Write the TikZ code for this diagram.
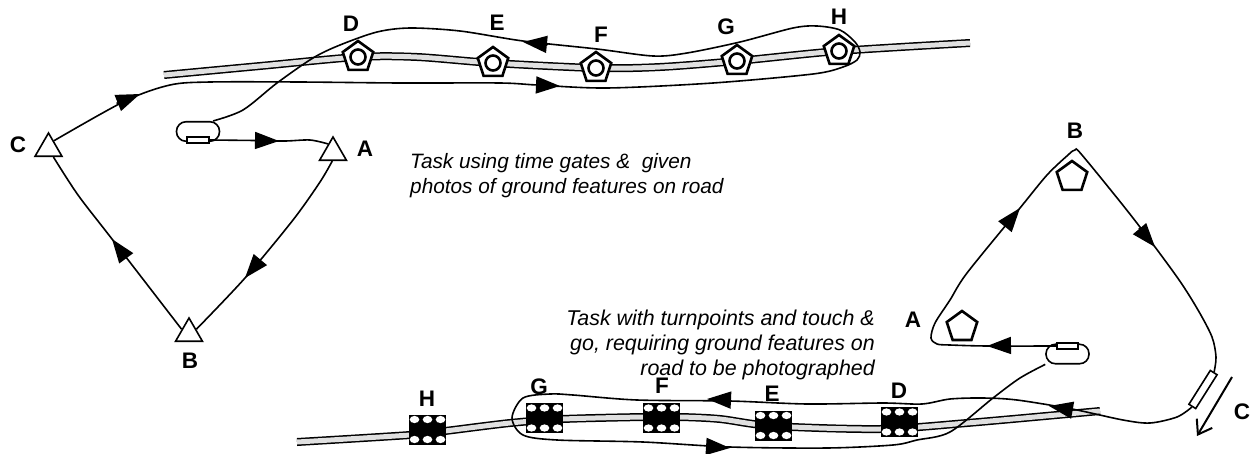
\documentclass[tikz,border=0pt]{standalone}
\usepackage{fontspec}
\setmainfont{Liberation Sans}
\usetikzlibrary{arrows.meta,shapes.geometric}
\tikzset{
  route/.style={line width=1.6pt},
  roadway/.style={line width=1.5pt,double=black!12,double distance=5pt},
  headtip/.style={line width=1.6pt,-{Triangle[length=24pt,width=17pt]}},
  tpoint/.style={draw,fill=white,regular polygon,regular polygon sides=3,minimum size=31pt,inner sep=0pt,line width=1.6pt},
  pentagon/.style={draw,fill=white,regular polygon,regular polygon sides=5,minimum size=32pt,inner sep=0pt,line width=2.6pt},
  ring/.style={draw,fill=white,circle,minimum size=15pt,inner sep=0pt,line width=2.6pt},
  block/.style={fill=black,minimum width=37pt,minimum height=30pt,inner sep=0pt},
  oval/.style={draw,fill=white,rounded corners=9.5pt,minimum width=43pt,minimum height=19.5pt,inner sep=0pt,line width=1.6pt},
  bar/.style={draw,fill=white,minimum width=21.5pt,minimum height=6pt,inner sep=0pt,line width=1.6pt},
  tag/.style={font=\fontsize{22.5}{26}\selectfont\bfseries,inner sep=0pt},
  note/.style={font=\fontsize{#1}{25}\selectfont\itshape,inner sep=0pt}
}
\begin{document}
\begin{tikzpicture}[x=1pt,y=-1pt]
\useasboundingbox (0,0) rectangle (1258,453);
\draw[roadway] plot[smooth,tension=0.5] coordinates {(164,75) (260,66) (358,57) (417,57) (493,63) (596,68) (660,67) (737,61) (839,51) (970,43)};
\draw[roadway] plot[smooth,tension=0.5] coordinates {(297,442) (410,435) (445,431) (510,423) (563,419) (643,417) (680,417) (720,419) (773,426) (880,429) (967,423) (1100,411)};
\node[tpoint] (tpAa) at (333,152.5) {};
\node[tpoint] (tpBb) at (189,333.5) {};
\node[tpoint] (tpCc) at (48.5,148.5) {};
\node[oval] (ovalTop) at (198,131.5) {};
\node[bar] (barTop) at (198,140) {};
\foreach \nm/\x/\y/\lx/\ly in {D/358/57/351/24,E/493/63/497/23,F/596/68/601/35,G/737/61/726/27,H/839/51/839/17}{
  \node[pentagon] (pent\nm) at (\x,\y) {};
  \node[ring] at (\x,\y) {};
  \node[tag] (lab\nm) at (\lx,\ly) {\nm};
}
\foreach \nm/\x/\y/\lx/\ly in {H/427.5/429.5/427/399,G/544.5/418/539/387,F/661.5/418/662/386,E/773.5/425.5/772/394,D/899.5/422/899/391}{
  \node[block] (blk\nm) at (\x,\y) {};
  \foreach \dx in {-13,0,13}{
    \foreach \dy in {-10,10}{
      \fill[white] (\x+\dx,\y+\dy) ellipse (4.8 and 3.6);
    }
  }
  \node[tag] (low\nm) at (\lx,\ly) {\nm};
}
\node[tag] (labAa) at (365,149) {A};
\node[tag] (labBb) at (190,361) {B};
\node[tag] (labCc) at (18,145) {C};
\node[note=20.8,anchor=north west,align=left] (noteTop) at (410,153) {Task using time gates \&\ \ given\\photos of ground features on road};
\node[note=21.4,anchor=north east,align=right] (noteLow) at (875,310) {Task with turnpoints and touch \&\\go, requiring ground features on\\road to be photographed};
\draw[route] plot[smooth,tension=0.5] coordinates {(barTop.east) (255,140.5) (285,141) (310,140) (tpAa.120)};
\draw[route] plot[smooth,tension=0.5] coordinates {(tpAa.265) (320,182) (293,220) (245,278) (tpBb.30)};
\draw[route] plot[smooth,tension=0.5] coordinates {(tpBb.150) (112,239) (78,195) (tpCc.-60)};
\draw[route] plot[smooth,tension=0.5] coordinates {(tpCc.55) (125,101) (170,85) (210,82) (300,82) (400,83) (500,83) (537,85) (607,88) (713,83) (813,74) (843,67) (857,60) (860,52) (855,42) (840,30) (817,26) (793,28) (740,42) (687,53) (653,56) (597,49) (523,41) (460,31) (410,28) (377,32) (340,45) (313,58) (277,83) (243,110) (ovalTop.35)};
\foreach \tl/\tp in {{116.5,103.5}/{140,94},{255,140.5}/{279,141},{260,260}/{245,278},{126,258}/{112,239},{548,44.5}/{523,42},{537,85}/{560,86}}{
  \draw[headtip] (\tl) -- (\tp);
}
\node[pentagon] (pentAa) at (962,327) {};
\node[pentagon] (pentBb) at (1072,177) {};
\node[tag] (lowAa) at (913,320) {A};
\node[tag] (lowBb) at (1075,131) {B};
\node[tag] (lowCc) at (1242,412) {C};
\node[oval] (ovalLow) at (1067.5,354) {};
\node[bar] (barLow) at (1067.5,346) {};
\node[draw,fill=white,minimum width=40pt,minimum height=8pt,inner sep=0pt,line width=1.6pt,rotate=57.7] (gateC) at (1203,389.5) {};
\draw[route] plot[smooth,tension=0.5] coordinates {(barLow.west) (987,346) (950,345) (937,344) (931,338) (935,323) (950,300) (967,273) (1020,208) (1047,175) (1068,155) (1075,150) (1082,155) (1133,218) (1177,277) (1198,310) (1212,337) (1216,357) (gateC.east)};
\draw[route] plot[smooth,tension=0.5] coordinates {(gateC.west) (1177,417) (1150,423) (1123,420) (1072,409) (1017,400) (983,398) (950,399) (922,404) (883,403) (807,404) (730,401) (637,400) (573,395) (550,394) (523,398) (512,418) (523,435) (557,440) (643,442) (730,447) (827,448) (893,445) (917,440) (950,432) (993,398) (1020,378) (ovalLow.205)};
\foreach \tl/\tp in {{1010,345.5}/{987,346},{1005.5,226}/{1020,208},{1139,228}/{1155,247},{1071.5,410}/{1049,406},{729,400}/{707,399},{707,446.5}/{730,448}}{
  \draw[headtip] (\tl) -- (\tp);
}
\coordinate (arrowTop) at (1232,377);
\coordinate (arrowEnd) at (1197,436);
\draw[line width=2pt,-{Straight Barb[length=13pt,width=18pt]}] (arrowTop) -- (arrowEnd);
\end{tikzpicture}
\end{document}
